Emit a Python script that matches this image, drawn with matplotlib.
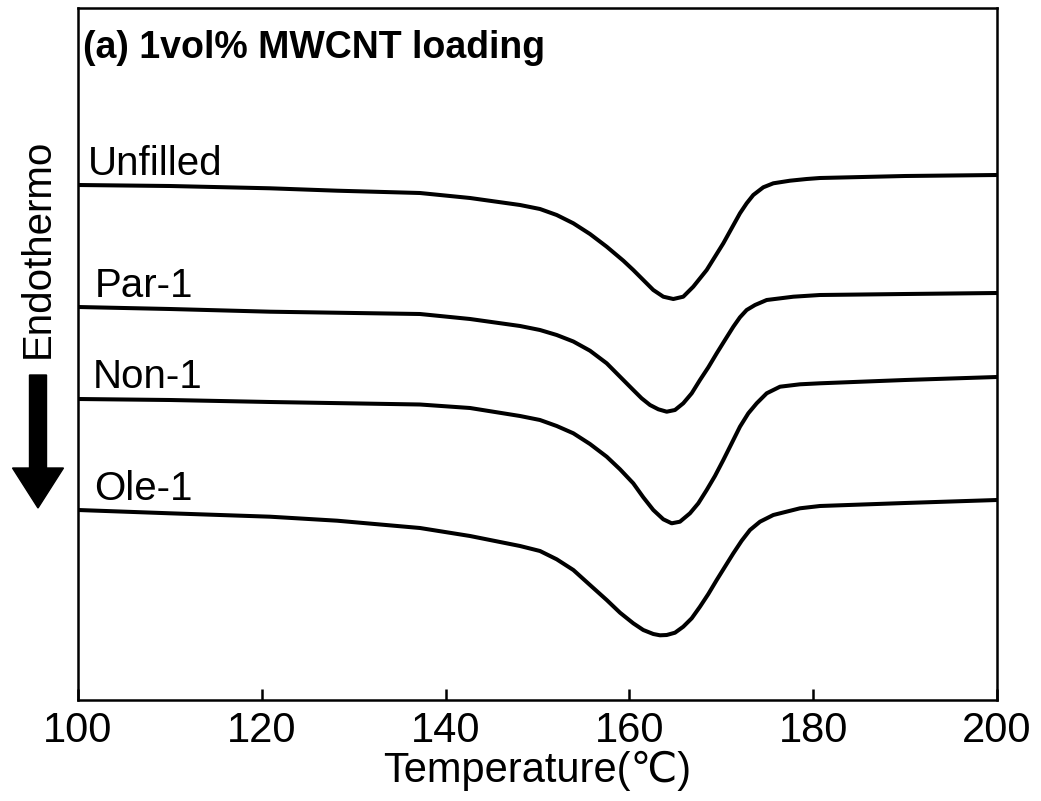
import matplotlib
matplotlib.use("Agg")
import matplotlib.pyplot as plt
from matplotlib.patches import FancyArrow

# DSC curves (heat flow, arbitrary units)
T_unfilled = [100, 110, 120.9, 128.2, 137.21, 142.66, 148.1, 150.27, 152.09, 153.9,
              155.71, 157.53, 159.34, 160.42, 161.51, 162.6, 163.69, 164.78, 165.86,
              166.95, 168.41, 170.22, 172.03, 172.76, 173.48, 174.57, 175.66, 177.47,
              179.29, 180.74, 190, 200]
unfilled = [5.15, 5.14, 5.117, 5.093, 5.07, 5.02, 4.95, 4.91, 4.85, 4.767,
            4.66, 4.533, 4.393, 4.30, 4.20, 4.10, 4.033, 4.01, 4.033,
            4.133, 4.30, 4.567, 4.867, 4.967, 5.05, 5.127, 5.167, 5.193,
            5.21, 5.22, 5.24, 5.25]

T_par = [100, 110, 120.9, 137.21, 142.66, 148.1, 150.27, 152.09, 153.9, 155.71,
         157.53, 158.98, 160.42, 161.33, 162.24, 163.15, 164.06, 164.96, 165.86,
         166.78, 167.68, 168.59, 169.5, 170.4, 171.31, 172.03, 172.76, 173.67,
         174.94, 177.84, 180.74, 190, 200]
par1 = [3.93, 3.91, 3.883, 3.86, 3.81, 3.74, 3.70, 3.65, 3.585, 3.493,
        3.367, 3.233, 3.10, 3.017, 2.95, 2.907, 2.883, 2.90, 2.967,
        3.067, 3.20, 3.327, 3.467, 3.60, 3.733, 3.827, 3.90, 3.95,
        4.00, 4.033, 4.05, 4.06, 4.07]

T_non = [100, 110, 120.9, 137.21, 142.66, 148.1, 150.27, 152.09, 153.9, 155.71,
         157.53, 158.98, 160.42, 161.51, 162.6, 163.69, 164.6, 165.5, 166.59,
         167.5, 168.41, 169.31, 170.22, 171.13, 172.03, 172.94, 173.85, 174.94,
         176.39, 178.56, 180.74, 190, 200]
non1 = [3.01, 3.0, 2.98, 2.955, 2.92, 2.84, 2.80, 2.74, 2.667, 2.56,
        2.433, 2.307, 2.167, 2.027, 1.90, 1.807, 1.767, 1.783, 1.867,
        1.967, 2.10, 2.24, 2.40, 2.567, 2.733, 2.867, 2.967, 3.067,
        3.133, 3.157, 3.167, 3.20, 3.23]

T_ole = [100, 110, 120.9, 128.2, 137.21, 142.66, 148.1, 150.27, 152.09, 153.9,
         155.71, 157.53, 158.98, 160.42, 161.51, 162.6, 163.33, 164.06, 164.96,
         165.86, 166.78, 167.68, 168.59, 169.5, 170.4, 171.31, 172.22, 173.12,
         174.21, 175.66, 178.56, 180.74, 190, 195, 200]
ole1 = [1.90, 1.867, 1.833, 1.793, 1.72, 1.64, 1.54, 1.49, 1.407, 1.30,
        1.15, 1.00, 0.873, 0.767, 0.70, 0.66, 0.647, 0.65, 0.673,
        0.733, 0.817, 0.933, 1.06, 1.20, 1.333, 1.467, 1.593, 1.70,
        1.783, 1.85, 1.917, 1.94, 1.97, 1.985, 2.00]

names = ["Unfilled", "Par-1", "Non-1", "Ole-1"]
label_pos = [(101.1, 5.25), (101.8, 4.03), (101.6, 3.12), (101.8, 2.0)]
xticks = [100, 120, 140, 160, 180, 200]

fam = ["Liberation Sans", "DejaVu Sans"]

fig = plt.figure(figsize=(10.41, 8.01), dpi=100)
ax = fig.add_axes([78/1041, 1-700/801, 919/1041, 692/801])

for T, y in [(T_unfilled, unfilled), (T_par, par1), (T_non, non1), (T_ole, ole1)]:
    ax.plot(T, y, color="black", lw=2.9, solid_capstyle="round", solid_joinstyle="round")

for name, (x, y) in zip(names, label_pos):
    ax.text(x, y, name, fontsize=29, family=fam, va="baseline", ha="left")

ax.text(100.55, 6.52, "(a) 1vol% MWCNT loading", fontsize=27, fontweight="bold",
        family=fam, va="center", ha="left")

ax.set_xlim(100, 200)
ax.set_ylim(0, 6.92)
ax.set_xticks(xticks)
ax.set_yticks([])
ax.tick_params(axis="x", direction="in", length=8, width=1.8, pad=8)
for lab in ax.get_xticklabels():
    lab.set_fontsize(30)
    lab.set_family(fam)
for s in ax.spines.values():
    s.set_linewidth(1.8)

ax.set_xlabel("Temperature(℃)", fontsize=30, family=fam, labelpad=0)

# Endothermo label and arrow on the left
fig.text(38/1041, 1-248/801, "Endothermo", rotation=90, fontsize=29,
         family=fam, ha="center", va="center")
fig.patches.append(FancyArrow(
    38/1041, 1-375/801, 0, -133/801, width=17/1041, head_width=51/1041,
    head_length=40/801, length_includes_head=True, color="black",
    transform=fig.transFigure, figure=fig))

fig.savefig("out.png", dpi=100)
